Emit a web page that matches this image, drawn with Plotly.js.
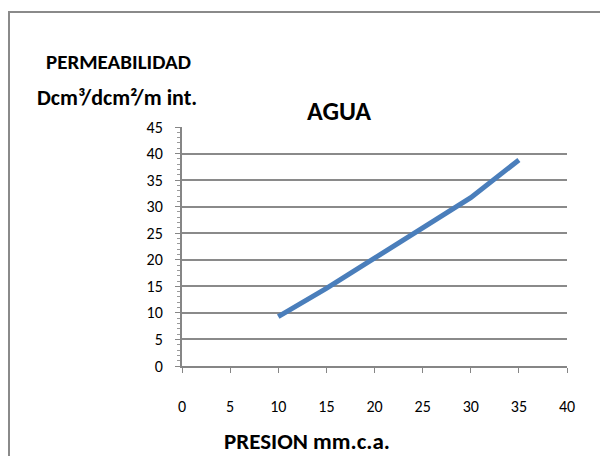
<!DOCTYPE html>
<html>
<head>
<meta charset="utf-8">
<script src="https://cdn.plot.ly/plotly-3.0.1.min.js"></script>
<style>html,body{margin:0;padding:0;background:#fff;}#chart{width:600px;height:456px;}</style>
</head>
<body>
<div id="chart"></div>
<script>
const presion = [10, 15, 20, 25, 30, 35];
const permeabilidad = [9.3, 14.6, 20.3, 25.9, 31.7, 38.8];
const xTicks = [0, 5, 10, 15, 20, 25, 30, 35, 40];
const yTicks = [0, 5, 10, 15, 20, 25, 30, 35, 40, 45];
const titleText = "AGUA";
const xTitle = "PRESION mm.c.a.";
const yTitle1 = "PERMEABILIDAD";
const yTitle2 = "Dcm³/dcm²/m int.";

const FONT = "Carlito, Calibri, 'Liberation Sans Narrow', Lato, sans-serif";
const L = 182, R = 33, T = 127, B = 90, W = 600, H = 456;
const pw = W - L - R, ph = H - T - B;
const px = v => (v - L) / pw;
const py = v => (H - B - v) / ph;

const trace = {
  x: presion, y: permeabilidad, type: 'scatter', mode: 'lines',
  line: {color: '#4a7ebb', width: 5}, hoverinfo: 'skip'
};

const layout = {
  width: W, height: H,
  margin: {l: L, r: R, t: T, b: B},
  paper_bgcolor: '#ffffff', plot_bgcolor: '#ffffff',
  showlegend: false,
  font: {family: FONT, color: '#000'},
  title: {text: '<b>' + titleText + '</b>', font: {size: 26, family: FONT},
    x: 339 / W, xanchor: 'center', xref: 'container',
    y: 1 - 111 / H, yanchor: 'middle', yref: 'container'},
  xaxis: {
    range: [0, 40], tickvals: xTicks, ticktext: xTicks.map(String),
    showgrid: false, zeroline: false,
    showline: true, linecolor: '#868686', linewidth: 2,
    ticks: 'outside', ticklen: 5, tickcolor: '#868686', tickwidth: 1,
    ticklabelstandoff: 20,
    tickfont: {size: 16, family: FONT}, fixedrange: true
  },
  yaxis: {
    range: [0, 45], tickvals: yTicks, ticktext: yTicks.map(String),
    showgrid: true, gridcolor: '#8a8a8a', gridwidth: 2,
    zeroline: false,
    showline: true, linecolor: '#868686', linewidth: 2,
    ticks: 'outside', ticklen: 5, tickcolor: '#868686', tickwidth: 1,
    minor: {dtick: 1, ticks: 'outside', ticklen: 3, tickcolor: '#9a9a9a', tickwidth: 1, showgrid: false},
    ticklabelstandoff: 9,
    tickfont: {size: 16, family: FONT}, fixedrange: true
  },
  annotations: [
    {text: '<b>' + yTitle1 + '</b>', xref: 'paper', yref: 'paper', x: px(118), y: py(62),
     xanchor: 'center', yanchor: 'middle', showarrow: false, font: {size: 21, family: FONT}},
    {text: '<b>' + yTitle2 + '</b>', xref: 'paper', yref: 'paper', x: px(117), y: py(97),
     xanchor: 'center', yanchor: 'middle', showarrow: false, font: {size: 22, family: FONT}},
    {text: '<b>' + xTitle + '</b>', xref: 'paper', yref: 'paper', x: px(307), y: py(441),
     xanchor: 'center', yanchor: 'middle', showarrow: false, font: {size: 23, family: FONT}}
  ],
  shapes: [
    {type: 'rect', xref: 'paper', yref: 'paper', x0: px(9), x1: px(640), y0: py(500), y1: py(12),
     line: {color: '#8a8a8a', width: 2}, fillcolor: 'rgba(0,0,0,0)', layer: 'below'}
  ]
};

Plotly.newPlot('chart', [trace], layout, {staticPlot: true, displayModeBar: false});
</script>
</body>
</html>
